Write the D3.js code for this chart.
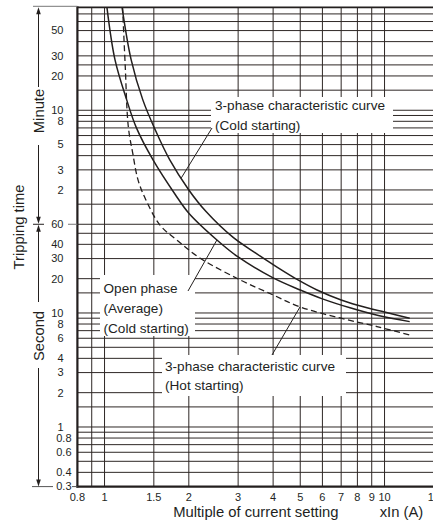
<!DOCTYPE html>
<html>
<head>
<meta charset="utf-8">
<script src="https://cdn.jsdelivr.net/npm/d3@7"></script>
<style>
  html, body { margin: 0; padding: 0; background: #fff; }
  svg { display: block; font-family: "Liberation Sans", Arial, Helvetica, sans-serif; }
</style>
</head>
<body>
<svg id="chart" width="433" height="524"></svg>
<script>
// Horizontal axis: multiple of current setting (xIn)
const xTickLabels = [0.8, 1, 1.5, 2, 3, 4, 5, 6, 7, 8, 9, 10, 15];
const xGridValues = [0.9, 1, 1.5, 2, 3, 4, 5, 6, 7, 8, 9, 10];

// Vertical axis: tripping time (one log scale in seconds, labelled in minutes above 1 min)
const minuteTickLabels = [50, 30, 20, 10, 8, 5, 3, 2];
const secondTickLabels = [60, 40, 30, 20, 10, 8, 6, 4, 3, 2, 1, 0.8, 0.6, 0.4, 0.3];
const secondGridValues = [0.4, 0.5, 0.6, 0.7, 0.8, 0.9, 1, 1.5, 2, 3, 4, 5, 6, 7, 8, 9, 10, 15, 20, 30, 40, 50, 60];
const minuteGridValues = [1.5, 2, 3, 4, 5, 6, 7, 8, 9, 10, 15, 20, 25, 30, 40, 50, 60, 70];

// Curves: [multiple of current setting, tripping time in seconds]
const coldThreePhase = [
  [1.155, 4800], [1.245, 1660], [1.37, 740], [1.52, 400], [1.71, 220], [2.0, 120],
  [2.3, 78], [2.88, 46], [3.5, 33], [4.13, 25.3], [5.0, 19], [5.74, 15.9],
  [7.0, 13], [8.66, 11.1], [10, 10.2], [12.3, 9.0]
];
const openPhaseAverage = [
  [1.02, 4800], [1.09, 1660], [1.2, 740], [1.3, 420], [1.49, 220], [1.786, 110],
  [2.0, 75], [2.52, 43.7], [3.0, 31], [4.0, 20.3], [5.0, 15.9], [6.0, 13.3],
  [7.53, 11.1], [9.5, 9.5], [12.3, 8.4]
];
const hotThreePhase = [
  [1.16, 4800], [1.185, 1500], [1.216, 430], [1.261, 252], [1.317, 147], [1.4, 100],
  [1.578, 59], [1.81, 43.7], [2.19, 30.4], [3.05, 19.5], [4.0, 14.4], [4.99, 11.3],
  [6.93, 9.04], [9.4, 7.6], [12.3, 6.4]
];

(function () {
  const ink = "#231f1e";
  const svg = d3.select("#chart");
  svg.append("rect").attr("width", 433).attr("height", 524).attr("fill", "#fff");

  const x = d3.scaleLog().domain([0.8, 15]).range([77.4, 77.4 + 280 * Math.log10(15 / 0.8)]);
  const y = d3.scaleLog().domain([0.3, 4800]).range([486.6, 7.3]);

  const pLeft = x(0.8), pRight = 433, pTop = y(4800), pBottom = y(0.3);

  svg.append("clipPath").attr("id", "plot-clip")
    .append("rect").attr("x", pLeft).attr("y", pTop).attr("width", pRight - pLeft).attr("height", pBottom - pTop);

  // Grid
  const grid = svg.append("g").attr("stroke", "#2e2725").attr("stroke-width", 1);
  const allGridSeconds = secondGridValues.concat(minuteGridValues.map(m => m * 60));
  grid.selectAll("line.h").data(allGridSeconds).join("line")
    .attr("class", "h")
    .attr("x1", pLeft).attr("x2", pRight)
    .attr("y1", d => y(d)).attr("y2", d => y(d));
  grid.selectAll("line.v").data(xGridValues).join("line")
    .attr("class", "v")
    .attr("x1", d => x(d)).attr("x2", d => x(d))
    .attr("y1", pTop).attr("y2", pBottom);

  // Curves
  const line = d3.line()
    .x(d => x(d[0]))
    .y(d => y(d[1]))
    .curve(d3.curveCatmullRom.alpha(0.5));

  const curves = svg.append("g").attr("clip-path", "url(#plot-clip)").attr("fill", "none").attr("stroke", ink);
  curves.append("path").datum(coldThreePhase).attr("d", line).attr("stroke-width", 1.5);
  curves.append("path").datum(openPhaseAverage).attr("d", line).attr("stroke-width", 1.5);
  curves.append("path").datum(hotThreePhase).attr("d", line).attr("stroke-width", 1.3)
    .attr("stroke-dasharray", "6,3.5");

  // Callouts
  const callouts = [
    { box: [211, 97, 182, 36], tx: 215, lines: [[105, "3-phase characteristic curve"], [125.5, "(Cold starting)"]],
      from: [212, 128], to: [1.88, 153] },
    { box: [100, 275, 95, 61], tx: 103.5, lines: [[288, "Open phase"], [308, "(Average)"], [328, "(Cold starting)"]],
      from: [188, 291], to: [2.52, 43.7] },
    { box: [162, 355, 184, 41], tx: 165, lines: [[366, "3-phase characteristic curve"], [385.7, "(Hot starting)"]],
      from: [272, 355], to: [4.99, 11.3] }
  ];
  const cg = svg.append("g");
  callouts.forEach(c => {
    cg.append("rect").attr("x", c.box[0]).attr("y", c.box[1]).attr("width", c.box[2]).attr("height", c.box[3])
      .attr("fill", "#fff");
    c.lines.forEach(([cy, txt]) => {
      cg.append("text").attr("x", c.tx).attr("y", cy).attr("dy", "0.35em")
        .attr("font-size", 13.6).attr("fill", ink).text(txt);
    });
    cg.append("line")
      .attr("x1", c.from[0]).attr("y1", c.from[1])
      .attr("x2", x(c.to[0])).attr("y2", y(c.to[1]))
      .attr("stroke", ink).attr("stroke-width", 1);
  });

  // Frame
  const frame = svg.append("g").attr("stroke", ink).attr("fill", "none");
  frame.append("line").attr("x1", pLeft).attr("x2", pLeft).attr("y1", pTop - 1).attr("y2", pBottom + 1).attr("stroke-width", 2.2);
  frame.append("line").attr("x1", pLeft - 1).attr("x2", pRight).attr("y1", pBottom).attr("y2", pBottom).attr("stroke-width", 2.2);
  frame.append("line").attr("x1", pLeft).attr("x2", pRight).attr("y1", pTop).attr("y2", pTop).attr("stroke-width", 1.8);

  // X tick labels
  svg.append("g").selectAll("text").data(xTickLabels).join("text")
    .attr("x", d => x(d)).attr("y", 497).attr("dy", "0.35em")
    .attr("text-anchor", "middle").attr("font-size", 11).attr("fill", ink)
    .text(d => d);

  // Y tick labels
  const fmt = d => String(d);
  svg.append("g").selectAll("text").data(minuteTickLabels).join("text")
    .attr("x", 63.5).attr("y", d => y(d * 60)).attr("dy", "0.35em")
    .attr("text-anchor", "end").attr("font-size", 11).attr("fill", ink)
    .text(fmt);
  svg.append("g").selectAll("text").data(secondTickLabels).join("text")
    .attr("x", d => d < 1 ? 71.5 : 63.5).attr("y", d => y(d)).attr("dy", "0.35em")
    .attr("text-anchor", "end").attr("font-size", 11).attr("fill", ink)
    .text(fmt);

  // Side bracket: minutes above the 60 s line, seconds below it
  const ax = 38.5;
  const yMin = y(60);
  const deco = svg.append("g").attr("stroke", ink).attr("stroke-width", 1);
  deco.append("line").attr("x1", 33).attr("x2", pLeft).attr("y1", pTop - 1).attr("y2", pTop - 1).attr("stroke", "#777");
  deco.append("line").attr("x1", 33).attr("x2", 44).attr("y1", yMin).attr("y2", yMin);
  deco.append("line").attr("x1", 68).attr("x2", pLeft).attr("y1", yMin).attr("y2", yMin).attr("stroke", "#777");
  deco.append("line").attr("x1", 32).attr("x2", 53).attr("y1", pBottom).attr("y2", pBottom).attr("stroke", "#555");
  deco.append("line").attr("x1", 72).attr("x2", pLeft).attr("y1", pBottom).attr("y2", pBottom).attr("stroke", "#555");
  [[pTop + 6, 87], [145, yMin - 6], [yMin + 6, 302], [368, pBottom - 6]].forEach(([a, b]) => {
    deco.append("line").attr("x1", ax).attr("x2", ax).attr("y1", a).attr("y2", b);
  });
  const arrow = (tipY, dir) => {
    svg.append("path")
      .attr("d", `M${ax},${tipY} L${ax - 2.3},${tipY + dir * 7} L${ax + 2.3},${tipY + dir * 7} Z`)
      .attr("fill", ink);
  };
  arrow(pTop, 1);
  arrow(yMin - 0.5, -1);
  arrow(yMin + 0.5, 1);
  arrow(pBottom, -1);

  // Axis titles
  const title = (tx, ty, txt, rot) => {
    svg.append("text")
      .attr("transform", `translate(${tx},${ty})` + (rot ? " rotate(-90)" : ""))
      .attr("text-anchor", "middle").attr("dy", "0.35em")
      .attr("font-size", 14.8).attr("fill", ink).text(txt);
  };
  title(ax, 111, "Minute", true);
  title(ax, 336, "Second", true);
  title(18.5, 227, "Tripping time", true);
  title(255.8, 511.7, "Multiple of current setting", false);
  title(401.5, 511.7, "xIn (A)", false);
})();
</script>
</body>
</html>
